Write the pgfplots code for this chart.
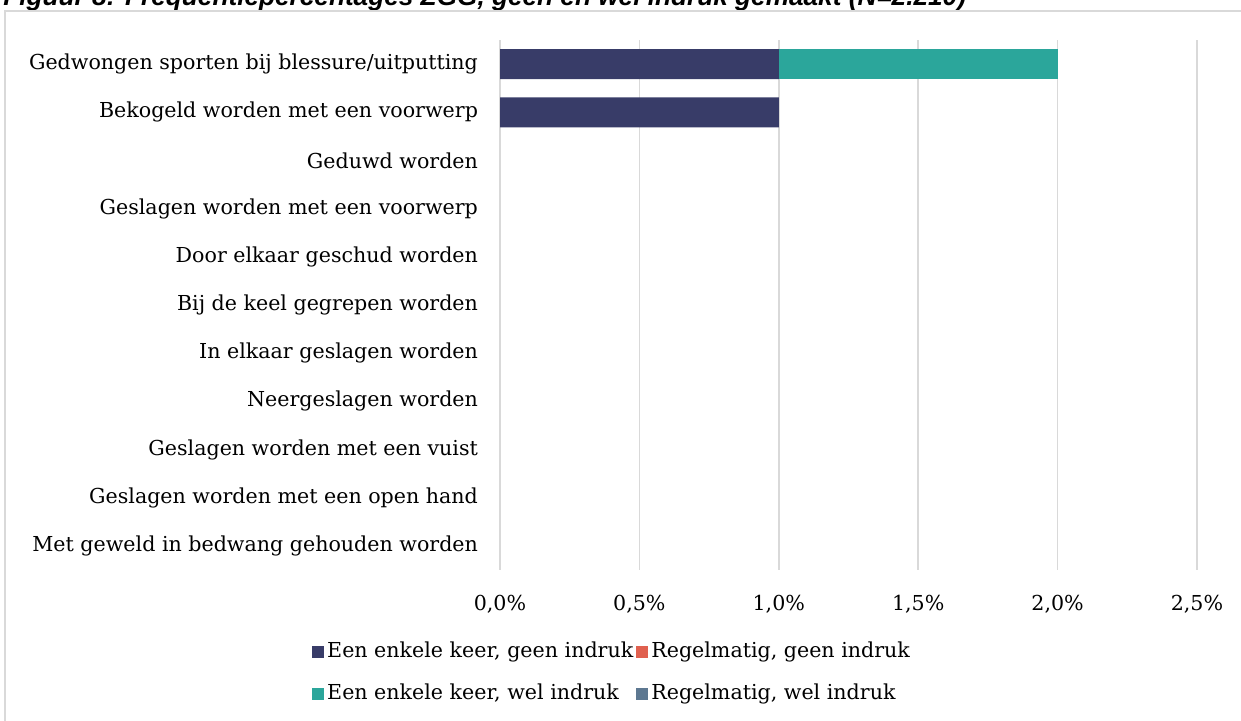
\documentclass[border=0pt]{standalone}
\usepackage{pgfplots}
\pgfplotsset{compat=1.18}
\usepackage{fontspec}
\setmainfont{DejaVu Serif}
\newfontfamily\titlefont{Liberation Sans}
\definecolor{cNavy}{HTML}{383C68}
\definecolor{cRed}{HTML}{E0604F}
\definecolor{cTeal}{HTML}{2BA69B}
\definecolor{cSlate}{HTML}{5D7891}
\definecolor{cGrid}{HTML}{D9D9D9}
\begin{document}
\begin{tikzpicture}
\node[anchor=base west, inner sep=0pt, font=\titlefont\bfseries\itshape\fontsize{13.1}{15}\selectfont] at (1.5pt,-2.5pt) {Figuur 8: Frequentiepercentages ZGG, geen en wel indruk gemaakt (N=2.210)};
\draw[cGrid, line width=0.75pt] (2.5pt,-370pt) -- (2.5pt,-5.5pt) -- (630pt,-5.5pt);
\begin{axis}[
  at={(250pt,-20pt)}, anchor=north west,
  scale only axis, width=348.5pt, height=265pt,
  xbar stacked, bar width=15pt,
  xmin=0, xmax=2.5, ymin=-0.5, ymax=10.5, y dir=reverse,
  ytick={0,1,2,3,4,5,6,7,8,9,10},
  yticklabels={Gedwongen sporten bij blessure/uitputting,Bekogeld worden met een voorwerp,Geduwd worden,Geslagen worden met een voorwerp,Door elkaar geschud worden,Bij de keel gegrepen worden,In elkaar geslagen worden,Neergeslagen worden,Geslagen worden met een vuist,Geslagen worden met een open hand,Met geweld in bedwang gehouden worden},
  xtick={0,0.5,1,1.5,2,2.5},
  xticklabels={{0,0\%},{0,5\%},{1,0\%},{1,5\%},{2,0\%},{2,5\%}},
  xmajorgrids, grid style={cGrid, line width=0.75pt},
  axis line style={draw=none}, major tick length=0pt,
  tick label style={font=\fontsize{10.3}{12}\selectfont},
  xticklabel style={yshift=-9pt},
  yticklabel style={xshift=-7.5pt},
  legend columns=2,
  legend cell align=left,
  legend style={at={(axis description cs:-0.2786,-0.12)}, anchor=north west, draw=none, fill=none,
    font=\fontsize{10.3}{12}\selectfont,
    nodes={text height=8pt, text depth=2.5pt, inner sep=1.5pt},
    row sep=7.5pt,
    /tikz/every even column/.append style={column sep=0pt}},
  legend image code/.code={\fill[#1] (0pt,-3pt) rectangle (6pt,3pt);},
]
\addplot[fill=cNavy, draw=none] coordinates {(1,0) (1,1) (0,2) (0,3) (0,4) (0,5) (0,6) (0,7) (0,8) (0,9) (0,10)};
\addlegendentry{Een enkele keer, geen indruk}
\addplot[fill=cRed, draw=none] coordinates {(0,0) (0,1) (0,2) (0,3) (0,4) (0,5) (0,6) (0,7) (0,8) (0,9) (0,10)};
\addlegendentry{Regelmatig, geen indruk}
\addplot[fill=cTeal, draw=none] coordinates {(1,0) (0,1) (0,2) (0,3) (0,4) (0,5) (0,6) (0,7) (0,8) (0,9) (0,10)};
\addlegendentry{Een enkele keer, wel indruk}
\addplot[fill=cSlate, draw=none] coordinates {(0,0) (0,1) (0,2) (0,3) (0,4) (0,5) (0,6) (0,7) (0,8) (0,9) (0,10)};
\addlegendentry{Regelmatig, wel indruk}
\end{axis}
\pgfresetboundingbox
\useasboundingbox (0pt,0pt) rectangle (620.5pt,-360pt);
\end{tikzpicture}
\end{document}
